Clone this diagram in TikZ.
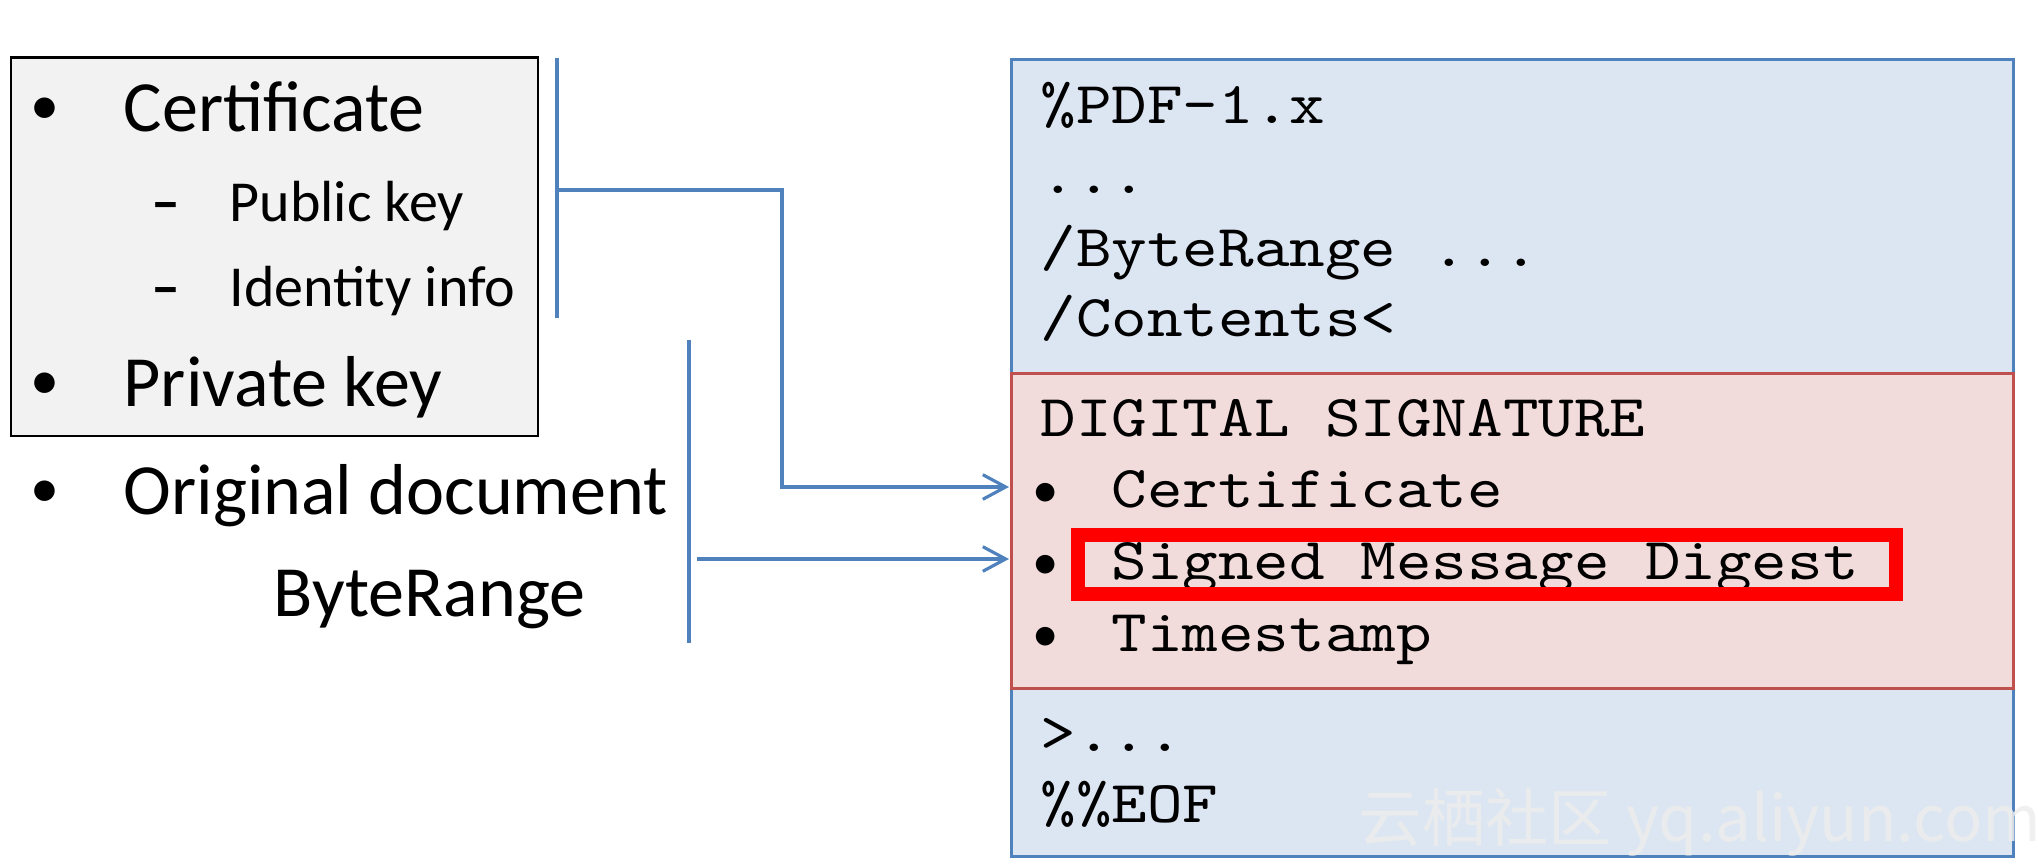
\documentclass[tikz,border=0pt]{standalone}
\usepackage{fontspec}
\setmainfont{Carlito}
\newfontfamily\codefont{lmmono10-regular}[Extension=.otf, FakeStretch=1.14]
\newfontfamily\markfont{Noto Sans CJK SC}
\usetikzlibrary{arrows.meta,positioning}
\definecolor{linkblue}{HTML}{4F81BD}
\definecolor{partblue}{HTML}{DCE6F2}
\definecolor{partred}{HTML}{F2DCDB}
\definecolor{edgered}{HTML}{C0504D}
\definecolor{keygray}{HTML}{F2F2F2}
\begin{document}
\begin{tikzpicture}[x=0.01cm, y=-0.01cm,
    big/.style={anchor=base west, inner sep=0pt, font=\fontsize{20.5}{24}\selectfont},
    small/.style={anchor=base west, inner sep=0pt, font=\fontsize{16.5}{20}\selectfont},
    dot/.style={anchor=base, inner sep=0pt, font=\fontsize{16.5}{20}\selectfont},
    code/.style={anchor=base west, inner sep=0pt, font=\codefont\fontsize{16.9}{20}\selectfont},
    part/.style={draw=linkblue, fill=partblue, line width=0.85pt, anchor=north west,
        minimum width=10.01cm, inner sep=0pt},
    link/.style={draw=linkblue, line width=0.9pt},
    tip/.style={-{Straight Barb[length=6.5pt,width=7pt]}}]
    \useasboundingbox (0,0) rectangle (2038,864);
    % signer side
    \draw[fill=keygray, line width=0.85pt] (11,58) rectangle (538,436);
    \node[dot] (b1) at (45,125) {\textbullet};
    \node[big] (cert) at (123,132) {Certificate};
    \node[small, anchor=base, font=\bfseries\fontsize{16.5}{20}\selectfont] (d1) at (166,222) {--};
    \node[small] (pubkey) at (229,222) {Public key};
    \node[small, anchor=base, font=\bfseries\fontsize{16.5}{20}\selectfont] (d2) at (166,307) {--};
    \node[small] (ident) at (229,307) {Identity info};
    \node[dot] (b2) at (45,400) {\textbullet};
    \node[big] (privkey) at (123,407) {Private key};
    \node[dot] (b3) at (45,508) {\textbullet};
    \node[big] (orig) at (123,515) {Original document};
    \node[big] (range) at (273,617) {ByteRange};
    % pdf file
    \node[part, minimum height=3.14cm] (head) at (1010,58) {};
    \node[part, minimum height=1.68cm] (tail) at (1010,687) {};
    \node[part, draw=edgered, fill=partred, minimum height=3.15cm] (sig) at (1010,372) {};
    \node[code] (l1) at (1040,124) {\%PDF-1.x};
    \node[code] (l2) at (1040,194) {...};
    \node[code] (l3) at (1040,267) {/ByteRange ...};
    \node[code] (l4) at (1040,337) {/Contents<};
    \node[code] (l5) at (1040,437) {DIGITAL SIGNATURE};
    \node[dot, font=\fontsize{15}{18}\selectfont] (s1) at (1046,508) {\textbullet};
    \node[code] (sigcert) at (1111,508) {Certificate};
    \node[dot, font=\fontsize{15}{18}\selectfont] (s2) at (1046,580) {\textbullet};
    \node[code] (digest) at (1111,580) {Signed Message Digest};
    \node[dot, font=\fontsize{15}{18}\selectfont] (s3) at (1046,652) {\textbullet};
    \node[code] (stamp) at (1111,652) {Timestamp};
    \node[code] (l6) at (1040,752) {>...};
    \node[code] (l7) at (1040,823) {\%\%EOF};
    \draw[red, line width=4pt] (1078,535) rectangle (1896,594);
    % connectors
    \coordinate (certtop) at (557,58);
    \coordinate (certbot) at (557,318);
    \coordinate (certmid) at (557,190);
    \coordinate (bend) at (782,190);
    \coordinate (certin) at (1009,487);
    \draw[link] (certtop) -- (certbot);
    \draw[link, tip] (certmid) -- (bend) |- (certin);
    \coordinate (doctop) at (689,340);
    \coordinate (docbot) at (689,643);
    \coordinate (docout) at (697,559);
    \coordinate (digestin) at (1009,559);
    \draw[link] (doctop) -- (docbot);
    \draw[link, tip] (docout) -- (digestin);
    % watermark
    \node[anchor=base west, inner sep=0pt, font=\markfont\fontsize{18}{20}\selectfont,
        text=white!93!black, text opacity=0.85] (mark) at (1358,842) {云栖社区 yq.aliyun.com};
\end{tikzpicture}
\end{document}
